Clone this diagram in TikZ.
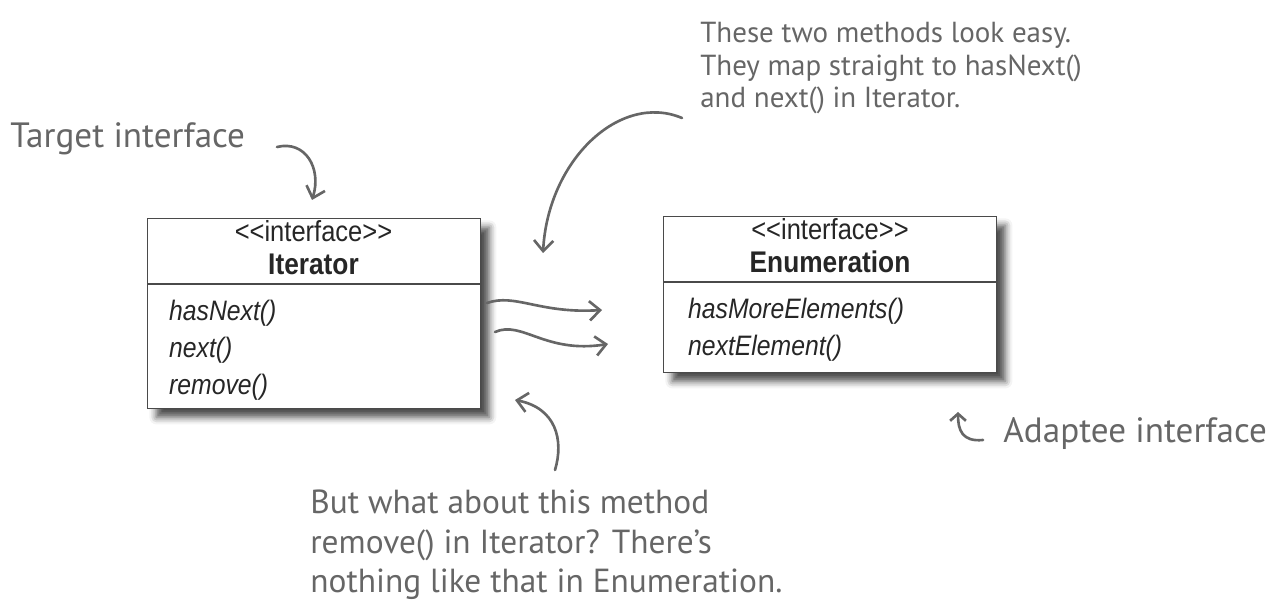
\documentclass[tikz,border=0pt]{standalone}
\usepackage{fontspec}
\setmainfont{PT Sans}
\newfontfamily\umlfont{Liberation Sans}[FakeStretch=0.88]
\usetikzlibrary{arrows.meta,shadows.blur}
\definecolor{pencil}{HTML}{666666}
\definecolor{boxline}{HTML}{4A4A4A}

\begin{document}
\begin{tikzpicture}[x=0.02cm,y=-0.02cm,
    umlbox/.style={draw=boxline,line width=0.7pt,fill=white,anchor=north west,
      minimum width=6.66cm,inner sep=0pt,
      blur shadow={shadow xshift=5pt,shadow yshift=-5pt,shadow blur radius=4pt,shadow opacity=70}},
    stereo/.style={anchor=base,text=black!85,font=\umlfont\fontsize{16.5}{19}\selectfont},
    cname/.style={anchor=base,text=black!85,font=\umlfont\bfseries\fontsize{17}{19}\selectfont},
    method/.style={anchor=base west,text=black!85,font=\umlfont\itshape\fontsize{16}{19}\selectfont},
    note/.style={anchor=north west,align=left,inner sep=0pt,text=pencil},
    scrawl/.style={draw=pencil,line width=1.5pt,line cap=round,
      -{Straight Barb[length=6pt,width=11pt]}}]
  \useasboundingbox (0,0) rectangle (1270,607);

  \node[umlbox,minimum height=3.8cm] (iter) at (147,218) {};
  \draw[boxline,line width=0.7pt] (iter.west |- 0,284) -- (iter.east |- 0,284);
  \node[stereo] (iterst) at (313.5,242) {<<interface>>};
  \node[cname] (itername) at (313.5,275) {Iterator};
  \foreach \m [count=\i] in {hasNext(),next(),remove()}
    \node[method] (itm\i) at (163,284+37*\i) {\m};

  \node[umlbox,minimum height=3.12cm] (enum) at (663,216) {};
  \draw[boxline,line width=0.7pt] (enum.west |- 0,282) -- (enum.east |- 0,282);
  \node[stereo] (enumst) at (830,240) {<<interface>>};
  \node[cname] (enumname) at (830,273) {Enumeration};
  \foreach \m [count=\i] in {hasMoreElements(),nextElement()}
    \node[method] (enm\i) at (682,282+37*\i) {\m};

  \node[note,font=\fontsize{20}{24}\selectfont] (target) at (10,122) {Target interface};
  \node[note,font=\fontsize{16.5}{18.5}\selectfont] (easy) at (700,22)
    {These two methods look easy.\\They map straight to hasNext()\\and next() in Iterator.};
  \node[note,font=\fontsize{19}{22.3}\selectfont] (missing) at (310,490)
    {But what about this method\\remove() in Iterator? There's\\nothing like that in Enumeration.};
  \node[note,font=\fontsize{20}{24}\selectfont] (adaptee) at (1003,417) {Adaptee interface};

  \coordinate (tgt0) at (277,147);  \coordinate (tgt1) at (312,200);
  \coordinate (easy0) at (682,118); \coordinate (easy1) at (543,253);
  \coordinate (map0) at (487,303);  \coordinate (map1) at (602,310);
  \coordinate (map2) at (495,332);  \coordinate (map3) at (608,344);
  \coordinate (rem0) at (555,470);  \coordinate (rem1) at (515,400);
  \coordinate (adp0) at (983,440);  \coordinate (adp1) at (958,412);

  \draw[scrawl] (tgt0) .. controls (305,140) and (322,168) .. (tgt1);
  \draw[scrawl] (easy0) .. controls (620,92) and (548,160) .. (easy1);
  \draw[scrawl] (map0) .. controls (515,293) and (540,314) .. (map1);
  \draw[scrawl] (map2) .. controls (522,320) and (545,354) .. (map3);
  \draw[scrawl] (rem0) .. controls (564,440) and (556,408) .. (rem1);
  \draw[scrawl,-{Straight Barb[length=4pt,width=9pt]}] (adp0) .. controls (962,442) and (958,430) .. (adp1);
\end{tikzpicture}
\end{document}
